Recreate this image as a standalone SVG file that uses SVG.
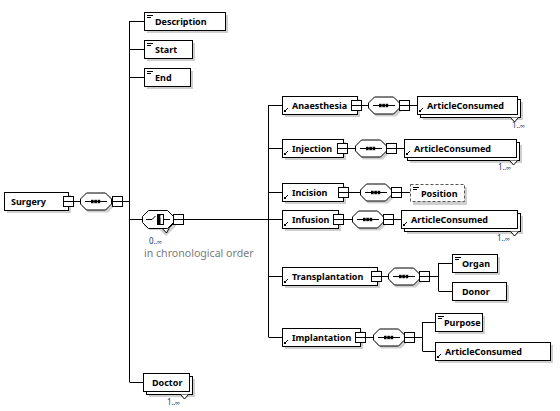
<svg xmlns="http://www.w3.org/2000/svg" xmlns:xlink="http://www.w3.org/1999/xlink" width="560" height="411" viewBox="0 0 560 411">
<style>
.bg{fill:#fff}
.bx{fill:#fff;stroke:#000;stroke-width:1}
.dash{fill:#fff;stroke:#555;stroke-width:1;stroke-dasharray:3,2}
.sh{fill:#cfcfcf}
.ln{stroke:#000;stroke-width:1;fill:none}
.lbl{font-family:"Noto Sans","Liberation Sans",sans-serif;font-weight:bold;font-size:9px;fill:#000}
.occ{font-family:"Noto Sans","Liberation Sans",sans-serif;font-size:8px;fill:#1a3a6a}
.note{font-family:"Noto Sans","Liberation Sans",sans-serif;font-size:10.6px;fill:#7a7a7a}
.ic{stroke:#000;stroke-width:1;fill:none}
</style>
<defs>
  <g id="cb">
    <rect x="0.5" y="0.5" width="10" height="10" class="bx"/>
    <line x1="0.5" y1="5.5" x2="10.5" y2="5.5" class="ln"/>
  </g>
  <g id="seq">
    <path d="M8,2 H28 L34,8 V14 L28,20 H8 L2,14 V8 Z" class="sh"/>
    <path d="M6.5,0.5 H25.5 L31.5,6.5 V11.5 L25.5,17.5 H6.5 L0.5,11.5 V6.5 Z" class="bx"/>
    <line x1="5" y1="9" x2="27" y2="9" class="ln"/>
    <rect x="11" y="7.3" width="2.6" height="3.4" fill="#000"/>
    <rect x="14.3" y="7.3" width="2.6" height="3.4" fill="#000"/>
    <rect x="17.6" y="7.3" width="2.6" height="3.4" fill="#000"/>
  </g>
  <g id="eq">
    <line x1="2" y1="2.5" x2="8" y2="2.5" class="ic"/>
    <line x1="2" y1="4.5" x2="6" y2="4.5" class="ic"/>
  </g>
  <g id="arr">
    <rect x="2" y="-5" width="2" height="2" fill="#000"/>
    <line x1="3" y1="-4" x2="6" y2="-7" class="ic"/>
  </g>
</defs>
<rect width="560" height="411" class="bg"/>

<g id="connectors">
  <line x1="73" y1="201.5" x2="80" y2="201.5" class="ln"/>
  <line x1="122" y1="201.5" x2="129.5" y2="201.5" class="ln"/>
  <line x1="129.5" y1="21" x2="129.5" y2="382" class="ln"/>
  <line x1="129.5" y1="21.5" x2="144" y2="21.5" class="ln"/>
  <line x1="129.5" y1="49.5" x2="144" y2="49.5" class="ln"/>
  <line x1="129.5" y1="77.5" x2="144" y2="77.5" class="ln"/>
  <line x1="129.5" y1="219.5" x2="142" y2="219.5" class="ln"/>
  <line x1="129.5" y1="382.5" x2="143" y2="382.5" class="ln"/>
  <line x1="183" y1="219.5" x2="282" y2="219.5" class="ln"/>
  <line x1="268.5" y1="105" x2="268.5" y2="337" class="ln"/>
  <line x1="268.5" y1="105.5" x2="282" y2="105.5" class="ln"/>
  <line x1="268.5" y1="148.5" x2="282" y2="148.5" class="ln"/>
  <line x1="268.5" y1="192.5" x2="282" y2="192.5" class="ln"/>
  <line x1="268.5" y1="276.5" x2="282" y2="276.5" class="ln"/>
  <line x1="268.5" y1="337.5" x2="282" y2="337.5" class="ln"/>
  <line x1="361" y1="105.5" x2="368" y2="105.5" class="ln"/>
  <line x1="409" y1="105.5" x2="417" y2="105.5" class="ln"/>
  <line x1="347" y1="148.5" x2="355" y2="148.5" class="ln"/>
  <line x1="396" y1="148.5" x2="404" y2="148.5" class="ln"/>
  <line x1="348" y1="192.5" x2="360" y2="192.5" class="ln"/>
  <line x1="401" y1="192.5" x2="410" y2="192.5" class="ln"/>
  <line x1="343" y1="219.5" x2="352" y2="219.5" class="ln"/>
  <line x1="393" y1="219.5" x2="401" y2="219.5" class="ln"/>
  <line x1="381" y1="276.5" x2="388" y2="276.5" class="ln"/>
  <line x1="429" y1="276.5" x2="438.5" y2="276.5" class="ln"/>
  <line x1="438.5" y1="263" x2="438.5" y2="291" class="ln"/>
  <line x1="438.5" y1="263.5" x2="452" y2="263.5" class="ln"/>
  <line x1="438.5" y1="291.5" x2="452" y2="291.5" class="ln"/>
  <line x1="365" y1="337.5" x2="373" y2="337.5" class="ln"/>
  <line x1="414" y1="337.5" x2="422.5" y2="337.5" class="ln"/>
  <line x1="422.5" y1="322" x2="422.5" y2="351" class="ln"/>
  <line x1="422.5" y1="322.5" x2="435" y2="322.5" class="ln"/>
  <line x1="422.5" y1="351.5" x2="435" y2="351.5" class="ln"/>
</g>

<g id="n-surgery">
  <rect x="7" y="195" width="64" height="18" class="sh"/>
  <rect x="4.5" y="192.5" width="64" height="18" class="bx"/>
  <text x="11" y="205" class="lbl">Surgery</text>
  <use xlink:href="#cb" x="63" y="196"/>
</g>
<g id="n-seq-main">
  <use xlink:href="#seq" x="80" y="192.5"/>
  <use xlink:href="#cb" x="112" y="196"/>
</g>
<g id="n-description">
  <rect x="147" y="15" width="81" height="18" class="sh"/>
  <rect x="144.5" y="12.5" width="81" height="18" class="bx"/>
  <use xlink:href="#eq" x="145" y="13"/>
  <text x="155" y="25" class="lbl">Description</text>
</g>
<g id="n-start">
  <rect x="147" y="43" width="48" height="18" class="sh"/>
  <rect x="144.5" y="40.5" width="48" height="18" class="bx"/>
  <use xlink:href="#eq" x="145" y="41"/>
  <text x="155" y="53" class="lbl">Start</text>
</g>
<g id="n-end">
  <rect x="147" y="71" width="46" height="18" class="sh"/>
  <rect x="144.5" y="68.5" width="46" height="18" class="bx"/>
  <use xlink:href="#eq" x="145" y="69"/>
  <text x="155" y="81" class="lbl">End</text>
</g>
<g id="n-choice">
  <path d="M150,215 H170 L176,221 V226 L172,230 L166,236 L160,230 H150 L144,226 V221 Z" class="sh"/>
  <path d="M147.5,212.5 H167.5 L173.5,218.5 V223.5 L169.5,227.5 L166.5,233 L161.5,227.5 H151.5 L147.5,223.5 Z" class="bx"/>
  <path d="M148.5,210.5 H167.5 L173.5,216.5 V222.5 L167.5,228.5 H148.5 L142.5,222.5 V216.5 Z" class="bx"/>
  <line x1="146" y1="219.5" x2="152" y2="219.5" class="ln"/>
  <line x1="152" y1="219.5" x2="155.5" y2="216" class="ln"/>
  <rect x="157.5" y="214.5" width="6" height="10" class="bx"/>
  <rect x="157.5" y="214.5" width="3" height="10" fill="#000"/>
  <rect x="160.5" y="216" width="2" height="2" fill="#fff"/>
  <line x1="163.5" y1="219.5" x2="170" y2="219.5" class="ln"/>
  <use xlink:href="#cb" x="173" y="214"/>
  <text x="149" y="244" class="occ">0<tspan font-size="6.5">..∞</tspan></text>
  <text x="144" y="257" class="note">in chronological order</text>
</g>
<g id="n-doctor">
  <rect x="149" y="379" width="46" height="18" class="sh"/>
  <rect x="146.5" y="376.5" width="46" height="18" class="bx"/>
  <path d="M180.5,394.5 L184.5,399 L188.5,394.5" class="bx"/>
  <rect x="143.5" y="373.5" width="46" height="18" class="bx"/>
  <text x="152" y="386" class="lbl">Doctor</text>
  <text x="167" y="405" class="occ">1<tspan font-size="6.5">..∞</tspan></text>
</g>

<g id="n-anaesthesia">
  <rect x="285" y="99" width="75" height="18" class="sh"/>
  <rect x="282.5" y="96.5" width="75" height="18" class="bx"/>
  <use xlink:href="#arr" x="282" y="115"/>
  <text x="292" y="109" class="lbl">Anaesthesia</text>
  <use xlink:href="#cb" x="351" y="100"/>
  <use xlink:href="#seq" x="368" y="96.5"/>
  <use xlink:href="#cb" x="399" y="100"/>
</g>
<g id="n-anaesthesia-ac">
  <rect x="423" y="102" width="100" height="18" class="sh"/>
  <rect x="420.5" y="99.5" width="100" height="18" class="bx"/>
  <path d="M510.5,117.5 L514.5,122 L518.5,117.5" class="bx"/>
  <rect x="417.5" y="96.5" width="100" height="18" class="bx"/>
  <use xlink:href="#arr" x="417" y="115"/>
  <text x="427" y="109" class="lbl">ArticleConsumed</text>
  <text x="512" y="128" class="occ">1<tspan font-size="6.5">..∞</tspan></text>
</g>

<g id="n-injection">
  <rect x="285" y="142" width="61" height="18" class="sh"/>
  <rect x="282.5" y="139.5" width="61" height="18" class="bx"/>
  <use xlink:href="#arr" x="282" y="158"/>
  <text x="292" y="152" class="lbl">Injection</text>
  <use xlink:href="#cb" x="337" y="143"/>
  <use xlink:href="#seq" x="355" y="139.5"/>
  <use xlink:href="#cb" x="386" y="143"/>
</g>
<g id="n-injection-ac">
  <rect x="410" y="145" width="112" height="18" class="sh"/>
  <rect x="407.5" y="142.5" width="112" height="18" class="bx"/>
  <path d="M509.5,160.5 L513.5,165 L517.5,160.5" class="bx"/>
  <rect x="404.5" y="139.5" width="112" height="18" class="bx"/>
  <use xlink:href="#arr" x="404" y="158"/>
  <text x="414" y="152" class="lbl">ArticleConsumed</text>
  <text x="498" y="170" class="occ">1<tspan font-size="6.5">..∞</tspan></text>
</g>

<g id="n-incision">
  <rect x="285" y="186" width="61" height="18" class="sh"/>
  <rect x="282.5" y="183.5" width="61" height="18" class="bx"/>
  <use xlink:href="#arr" x="282" y="202"/>
  <text x="292" y="196" class="lbl">Incision</text>
  <use xlink:href="#cb" x="338" y="187"/>
  <use xlink:href="#seq" x="360" y="183.5"/>
  <use xlink:href="#cb" x="391" y="187"/>
</g>
<g id="n-position">
  <rect x="413" y="187" width="54" height="18" class="sh"/>
  <rect x="410.5" y="184.5" width="54" height="17" class="dash"/>
  <use xlink:href="#eq" x="411" y="185"/>
  <text x="421" y="197" class="lbl">Position</text>
</g>

<g id="n-infusion">
  <rect x="285" y="213" width="56" height="18" class="sh"/>
  <rect x="282.5" y="210.5" width="56" height="18" class="bx"/>
  <use xlink:href="#arr" x="282" y="229"/>
  <text x="292" y="223" class="lbl">Infusion</text>
  <use xlink:href="#cb" x="333" y="214"/>
  <use xlink:href="#seq" x="352" y="210.5"/>
  <use xlink:href="#cb" x="383" y="214"/>
</g>
<g id="n-infusion-ac">
  <rect x="407" y="216" width="116" height="18" class="sh"/>
  <rect x="404.5" y="213.5" width="116" height="18" class="bx"/>
  <path d="M510.5,231.5 L514.5,236 L518.5,231.5" class="bx"/>
  <rect x="401.5" y="210.5" width="116" height="18" class="bx"/>
  <use xlink:href="#arr" x="401" y="229"/>
  <text x="411" y="223" class="lbl">ArticleConsumed</text>
  <text x="497" y="241" class="occ">1<tspan font-size="6.5">..∞</tspan></text>
</g>

<g id="n-transplantation">
  <rect x="285" y="270" width="95" height="18" class="sh"/>
  <rect x="282.5" y="267.5" width="95" height="18" class="bx"/>
  <use xlink:href="#arr" x="282" y="286"/>
  <text x="292" y="280" class="lbl">Transplantation</text>
  <use xlink:href="#cb" x="371" y="271"/>
  <use xlink:href="#seq" x="388" y="267.5"/>
  <use xlink:href="#cb" x="419" y="271"/>
</g>
<g id="n-organ">
  <rect x="455" y="257" width="45" height="18" class="sh"/>
  <rect x="452.5" y="254.5" width="45" height="18" class="bx"/>
  <use xlink:href="#eq" x="453" y="255"/>
  <text x="462" y="267" class="lbl">Organ</text>
</g>
<g id="n-donor">
  <rect x="455" y="285" width="54" height="18" class="sh"/>
  <rect x="452.5" y="282.5" width="54" height="18" class="bx"/>
  <text x="462" y="295" class="lbl">Donor</text>
</g>

<g id="n-implantation">
  <rect x="285" y="331" width="78" height="18" class="sh"/>
  <rect x="282.5" y="328.5" width="78" height="18" class="bx"/>
  <use xlink:href="#arr" x="282" y="347"/>
  <text x="292" y="341" class="lbl">Implantation</text>
  <use xlink:href="#cb" x="355" y="332"/>
  <use xlink:href="#seq" x="373" y="328.5"/>
  <use xlink:href="#cb" x="404" y="332"/>
</g>
<g id="n-purpose">
  <rect x="438" y="316" width="47" height="18" class="sh"/>
  <rect x="435.5" y="313.5" width="47" height="18" class="bx"/>
  <use xlink:href="#eq" x="436" y="314"/>
  <text x="444" y="326" class="lbl">Purpose</text>
</g>
<g id="n-implantation-ac">
  <rect x="438" y="345" width="115" height="18" class="sh"/>
  <rect x="435.5" y="342.5" width="115" height="18" class="bx"/>
  <use xlink:href="#arr" x="435" y="361"/>
  <text x="445" y="355" class="lbl">ArticleConsumed</text>
</g>
</svg>
